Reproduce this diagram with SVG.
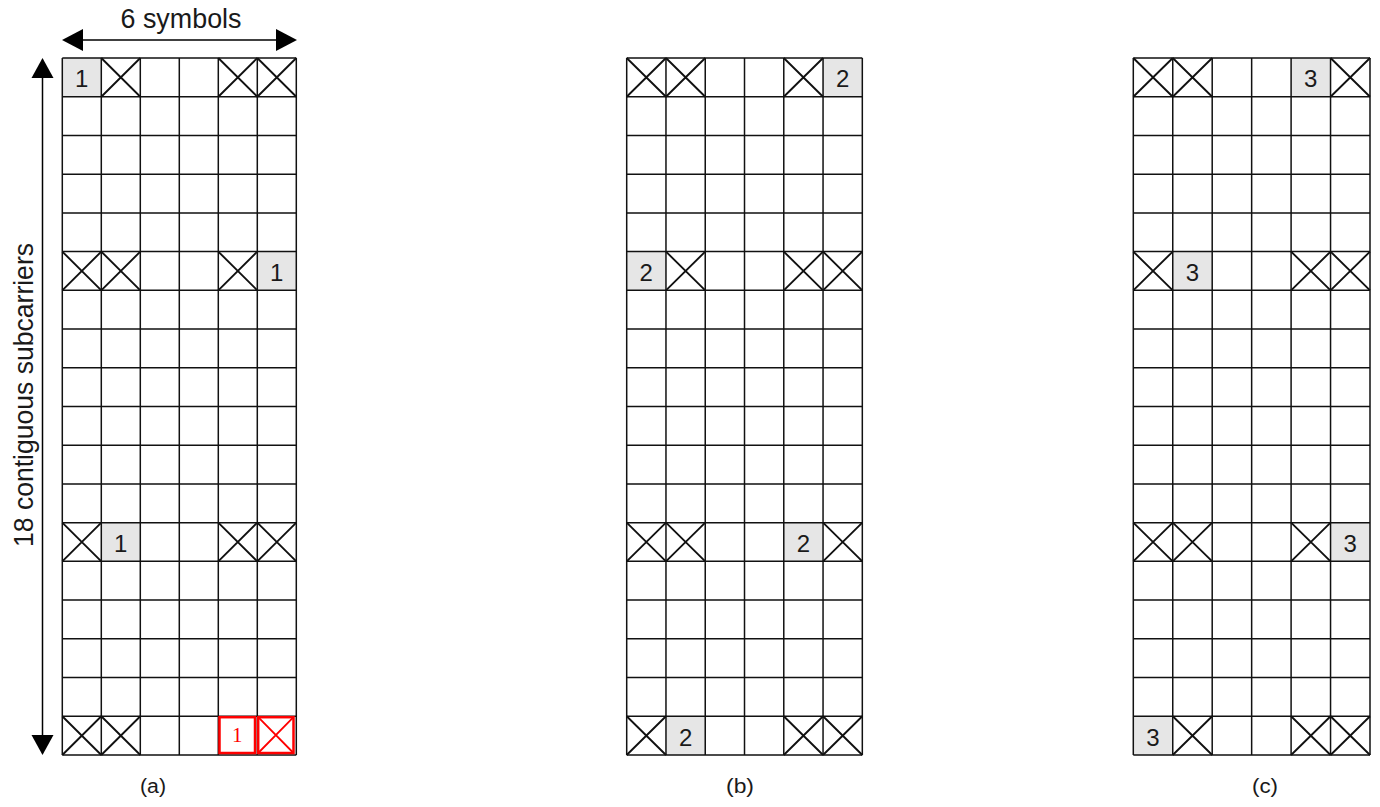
<svg xmlns="http://www.w3.org/2000/svg" width="1380" height="807" viewBox="0 0 1380 807">
<style>
.grid{fill:none;stroke:#111;stroke-width:1.5}
.x{fill:none;stroke:#111;stroke-width:1.9}
.sh{fill:#e6e6e6}
.num{font-family:"Liberation Sans",Arial,sans-serif;font-size:24px;fill:#1a1a1a;text-anchor:middle}
.lbl{font-family:"Liberation Sans",Arial,sans-serif;fill:#1a1a1a;text-anchor:middle}
.red{fill:none;stroke:#ff0000;stroke-width:2.5}
.redx{fill:none;stroke:#ff0000;stroke-width:1.8}
.ah{fill:#000}
</style>
<rect width="1380" height="807" fill="#fff"/>

<g id="panel-a">
<rect class="sh" x="62.3" y="58" width="39" height="38.72"/>
<rect class="sh" x="257.3" y="251.6" width="39" height="38.72"/>
<rect class="sh" x="101.3" y="522.64" width="39" height="38.72"/>
<path class="grid" d="M62.3 58V755M101.3 58V755M140.3 58V755M179.3 58V755M218.3 58V755M257.3 58V755M296.3 58V755
M62.3 58H296.3M62.3 96.72H296.3M62.3 135.44H296.3M62.3 174.16H296.3M62.3 212.88H296.3M62.3 251.6H296.3M62.3 290.32H296.3M62.3 329.04H296.3M62.3 367.76H296.3M62.3 406.48H296.3M62.3 445.2H296.3M62.3 483.92H296.3M62.3 522.64H296.3M62.3 561.36H296.3M62.3 600.08H296.3M62.3 638.8H296.3M62.3 677.52H296.3M62.3 716.24H296.3M62.3 754.96H296.3"/>
<path class="x" d="M101.3 58L140.3 96.72M101.3 96.72L140.3 58M218.3 58L257.3 96.72M218.3 96.72L257.3 58M257.3 58L296.3 96.72M257.3 96.72L296.3 58
M62.3 251.6L101.3 290.32M62.3 290.32L101.3 251.6M101.3 251.6L140.3 290.32M101.3 290.32L140.3 251.6M218.3 251.6L257.3 290.32M218.3 290.32L257.3 251.6
M62.3 522.64L101.3 561.36M62.3 561.36L101.3 522.64M218.3 522.64L257.3 561.36M218.3 561.36L257.3 522.64M257.3 522.64L296.3 561.36M257.3 561.36L296.3 522.64
M62.3 716.24L101.3 754.96M62.3 754.96L101.3 716.24M101.3 716.24L140.3 754.96M101.3 754.96L140.3 716.24"/>
<rect class="red" x="219.5" y="717.2" width="35.5" height="35.8"/>
<rect class="red" x="258.2" y="717.2" width="35.3" height="35.8"/>
<path class="redx" d="M258.2 717.2L293.5 753M258.2 753L293.5 717.2"/>
<text class="num" x="81.8" y="87.4">1</text>
<text class="num" x="276.8" y="281">1</text>
<text class="num" x="120.8" y="552">1</text>
<text x="237.2" y="742" font-family="'Liberation Serif','Times New Roman',serif" font-size="21" fill="#ff0000" text-anchor="middle">1</text>
<text class="lbl" x="153" y="793" font-size="20" textLength="26" lengthAdjust="spacingAndGlyphs">(a)</text>
</g>

<g id="panel-b">
<rect class="sh" x="823.05" y="58" width="39.27" height="38.72"/>
<rect class="sh" x="626.7" y="251.6" width="39.27" height="38.72"/>
<rect class="sh" x="783.78" y="522.64" width="39.27" height="38.72"/>
<rect class="sh" x="665.97" y="716.24" width="39.27" height="38.72"/>
<path class="grid" d="M626.7 58V755M665.97 58V755M705.24 58V755M744.51 58V755M783.78 58V755M823.05 58V755M862.32 58V755
M626.7 58H862.32M626.7 96.72H862.32M626.7 135.44H862.32M626.7 174.16H862.32M626.7 212.88H862.32M626.7 251.6H862.32M626.7 290.32H862.32M626.7 329.04H862.32M626.7 367.76H862.32M626.7 406.48H862.32M626.7 445.2H862.32M626.7 483.92H862.32M626.7 522.64H862.32M626.7 561.36H862.32M626.7 600.08H862.32M626.7 638.8H862.32M626.7 677.52H862.32M626.7 716.24H862.32M626.7 754.96H862.32"/>
<path class="x" d="M626.7 58L665.97 96.72M626.7 96.72L665.97 58M665.97 58L705.24 96.72M665.97 96.72L705.24 58M783.78 58L823.05 96.72M783.78 96.72L823.05 58
M665.97 251.6L705.24 290.32M665.97 290.32L705.24 251.6M783.78 251.6L823.05 290.32M783.78 290.32L823.05 251.6M823.05 251.6L862.32 290.32M823.05 290.32L862.32 251.6
M626.7 522.64L665.97 561.36M626.7 561.36L665.97 522.64M665.97 522.64L705.24 561.36M665.97 561.36L705.24 522.64M823.05 522.64L862.32 561.36M823.05 561.36L862.32 522.64
M626.7 716.24L665.97 754.96M626.7 754.96L665.97 716.24M783.78 716.24L823.05 754.96M783.78 754.96L823.05 716.24M823.05 716.24L862.32 754.96M823.05 754.96L862.32 716.24"/>
<text class="num" x="842.7" y="87.4">2</text>
<text class="num" x="646.3" y="281">2</text>
<text class="num" x="803.4" y="552">2</text>
<text class="num" x="685.6" y="745.6">2</text>
<text class="lbl" x="740" y="793" font-size="20" textLength="28" lengthAdjust="spacingAndGlyphs">(b)</text>
</g>

<g id="panel-c">
<rect class="sh" x="1291.1" y="58" width="39.45" height="38.72"/>
<rect class="sh" x="1172.75" y="251.6" width="39.45" height="38.72"/>
<rect class="sh" x="1330.55" y="522.64" width="39.45" height="38.72"/>
<rect class="sh" x="1133.3" y="716.24" width="39.45" height="38.72"/>
<path class="grid" d="M1133.3 58V755M1172.75 58V755M1212.2 58V755M1251.65 58V755M1291.1 58V755M1330.55 58V755M1370 58V755
M1133.3 58H1370M1133.3 96.72H1370M1133.3 135.44H1370M1133.3 174.16H1370M1133.3 212.88H1370M1133.3 251.6H1370M1133.3 290.32H1370M1133.3 329.04H1370M1133.3 367.76H1370M1133.3 406.48H1370M1133.3 445.2H1370M1133.3 483.92H1370M1133.3 522.64H1370M1133.3 561.36H1370M1133.3 600.08H1370M1133.3 638.8H1370M1133.3 677.52H1370M1133.3 716.24H1370M1133.3 754.96H1370"/>
<path class="x" d="M1133.3 58L1172.75 96.72M1133.3 96.72L1172.75 58M1172.75 58L1212.2 96.72M1172.75 96.72L1212.2 58M1330.55 58L1370 96.72M1330.55 96.72L1370 58
M1133.3 251.6L1172.75 290.32M1133.3 290.32L1172.75 251.6M1291.1 251.6L1330.55 290.32M1291.1 290.32L1330.55 251.6M1330.55 251.6L1370 290.32M1330.55 290.32L1370 251.6
M1133.3 522.64L1172.75 561.36M1133.3 561.36L1172.75 522.64M1172.75 522.64L1212.2 561.36M1172.75 561.36L1212.2 522.64M1291.1 522.64L1330.55 561.36M1291.1 561.36L1330.55 522.64
M1172.75 716.24L1212.2 754.96M1172.75 754.96L1212.2 716.24M1291.1 716.24L1330.55 754.96M1291.1 754.96L1330.55 716.24M1330.55 716.24L1370 754.96M1330.55 754.96L1370 716.24"/>
<text class="num" x="1310.8" y="87.4">3</text>
<text class="num" x="1192.5" y="281">3</text>
<text class="num" x="1350.3" y="552">3</text>
<text class="num" x="1153" y="745.6">3</text>
<text class="lbl" x="1265" y="793" font-size="20" textLength="26" lengthAdjust="spacingAndGlyphs">(c)</text>
</g>

<g id="connectors">
<line x1="80" y1="40" x2="279" y2="40" stroke="#000" stroke-width="1.5"/>
<polygon class="ah" points="62,40 83,29 83,51"/>
<polygon class="ah" points="297,40 276,29 276,51"/>
<line x1="42.5" y1="76" x2="42.5" y2="737" stroke="#000" stroke-width="1.5"/>
<polygon class="ah" points="42.5,58 31.5,78 53.5,78"/>
<polygon class="ah" points="42.5,755 31.5,735 53.5,735"/>
</g>

<g id="axis-labels">
<text class="lbl" x="181" y="28" font-size="27" textLength="121" lengthAdjust="spacingAndGlyphs">6 symbols</text>
<text class="lbl" transform="translate(33,395) rotate(-90)" font-size="27" textLength="304" lengthAdjust="spacingAndGlyphs">18 contiguous subcarriers</text>
</g>
</svg>
